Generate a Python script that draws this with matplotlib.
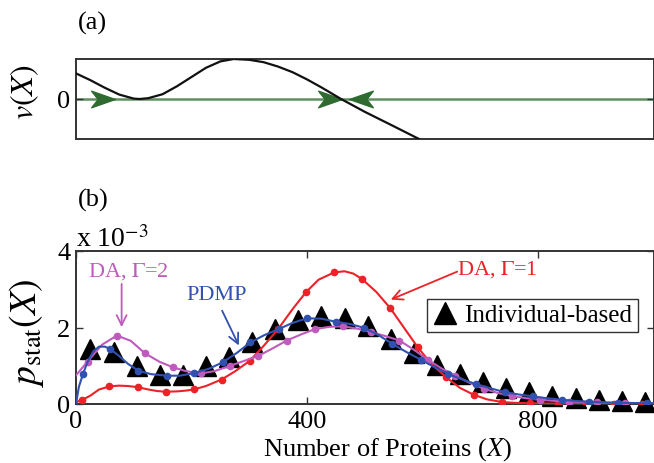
import matplotlib
matplotlib.use("Agg")
import matplotlib.pyplot as plt
from matplotlib.path import Path

plt.rcParams["font.family"] = ["Liberation Serif", "DejaVu Serif"]
plt.rcParams["mathtext.fontset"] = "stix"

# ---- panel (a): velocity field v(X) (arbitrary units, zero = fixed points) ----
v_x = [0, 25, 50, 75, 100, 110, 125, 150, 175, 200, 225, 250, 273, 300,
       325, 350, 375, 400, 425, 459, 500, 550, 594]
v_y = [0.64, 0.47, 0.28, 0.11, 0.01, 0.0, 0.02, 0.12, 0.32, 0.55, 0.78, 0.94,
       1.0, 0.98, 0.92, 0.81, 0.67, 0.49, 0.29, 0.0, -0.32, -0.68, -1.0]
flow_right_x = [46, 440]
flow_left_x = [494]

# ---- panel (b): stationary distributions (values in units of 1e-3) ----
# DA, Gamma=1 (red)
red_x = [0, 10, 25, 40, 58, 75, 90, 107, 125, 140, 155, 175, 190, 204, 225,
         252, 275, 301, 325, 350, 375, 398, 420, 447, 465, 480, 495, 520, 544,
         570, 592, 615, 641, 665, 689, 712, 738, 760, 786, 835, 900, 1000]
red_y = [0.05, 0.10, 0.22, 0.38, 0.46, 0.48, 0.47, 0.44, 0.38, 0.34, 0.32,
         0.33, 0.35, 0.38, 0.47, 0.64, 0.85, 1.13, 1.52, 1.96, 2.48, 2.92,
         3.25, 3.44, 3.47, 3.41, 3.27, 2.93, 2.51, 1.95, 1.48, 1.05, 0.70,
         0.42, 0.24, 0.12, 0.05, 0.03, 0.02, 0.01, 0.005, 0.0]
red_mx = [10, 58, 107, 155, 204, 252, 301, 350, 398, 447, 495, 544, 592, 641,
          689, 738, 786, 835, 883, 932, 980]
red_my = [0.10, 0.46, 0.44, 0.32, 0.38, 0.64, 1.13, 1.96, 2.92, 3.44, 3.27,
          2.51, 1.48, 0.70, 0.24, 0.05, 0.02, 0.01, 0.01, 0.0, 0.0]

# DA, Gamma=2 (magenta)
mag_x = [0, 20, 45, 71, 95, 119, 145, 168, 190, 217, 240, 267, 290, 316, 340,
         365, 390, 414, 440, 462, 487, 511, 535, 560, 585, 609, 633, 657, 682,
         706, 730, 755, 780, 804, 830, 853, 900, 950, 1000]
mag_y = [0.75, 1.11, 1.55, 1.79, 1.65, 1.33, 1.10, 0.96, 0.86, 0.80, 0.86,
         1.00, 1.12, 1.26, 1.45, 1.66, 1.82, 1.96, 2.02, 2.03, 1.97, 1.88,
         1.78, 1.66, 1.42, 1.16, 0.93, 0.74, 0.55, 0.40, 0.29, 0.21, 0.15,
         0.11, 0.08, 0.06, 0.04, 0.03, 0.02]
mag_mx = [20, 71, 119, 168, 217, 267, 316, 365, 414, 462, 511, 560, 609, 657,
          706, 755, 804, 853, 902, 951]
mag_my = [1.11, 1.79, 1.33, 0.96, 0.80, 1.00, 1.26, 1.66, 1.96, 2.03, 1.88,
          1.66, 1.16, 0.74, 0.40, 0.21, 0.11, 0.06, 0.04, 0.03]

# PDMP (blue)
blue_x = [0, 5, 12, 20, 30, 40, 50, 59, 75, 90, 108, 130, 157, 180, 205, 230,
          254, 278, 302, 326, 351, 375, 400, 425, 450, 475, 499, 524, 548, 572,
          597, 621, 645, 669, 693, 718, 742, 766, 791, 816, 842, 865, 889, 913,
          938, 963, 988, 1000]
blue_y = [0.0, 0.45, 0.78, 1.10, 1.38, 1.50, 1.50, 1.44, 1.25, 1.05, 0.87,
          0.78, 0.74, 0.74, 0.81, 0.92, 1.09, 1.33, 1.61, 1.80, 1.96, 2.12,
          2.24, 2.23, 2.15, 2.09, 1.99, 1.80, 1.57, 1.36, 1.16, 0.96, 0.78,
          0.64, 0.52, 0.41, 0.31, 0.25, 0.20, 0.15, 0.11, 0.08, 0.06, 0.04,
          0.03, 0.025, 0.02, 0.02]
blue_mx = [12, 59, 108, 157, 205, 254, 302, 351, 400, 450, 499, 548, 597, 645,
           693, 742, 791, 842, 889, 938, 988]
blue_my = [0.78, 1.44, 0.87, 0.74, 0.81, 1.09, 1.61, 1.96, 2.24, 2.15, 1.99,
           1.57, 1.16, 0.78, 0.52, 0.31, 0.20, 0.11, 0.06, 0.03, 0.02]

# Individual-based simulation (black triangles)
ind_x = [25, 65, 105, 145, 185, 225, 265, 305, 345, 385, 425, 465, 505, 545,
         585, 625, 665, 705, 745, 785, 825, 865, 905, 945, 985]
ind_y = [1.44, 1.35, 1.00, 0.75, 0.76, 0.99, 1.22, 1.63, 1.96, 2.20, 2.29,
         2.24, 2.03, 1.70, 1.33, 1.02, 0.78, 0.58, 0.41, 0.31, 0.20, 0.15,
         0.11, 0.09, 0.04]

# annotation texts and arrows (text pos, arrow start, arrow tip)
notes = [
    (r"DA, $\Gamma$=2", (91, 3.50), (79, 3.14), (79, 2.01)),
    ("PDMP", (243, 2.85), (253, 2.44), (282, 1.53)),
    (r"DA, $\Gamma$=1", (730, 3.55), (660, 3.46), (545, 2.73)),
]

RED = "#ec2229"
MAG = "#bf5bbd"
BLUE = "#3151ae"
GREEN = "#2f6b30"
SPINE = "#333333"
W, H = 654, 464


def style_axes(ax):
    for s in ax.spines.values():
        s.set_linewidth(1.4)
        s.set_color(SPINE)
    ax.tick_params(direction="in", top=True, right=True, length=5,
                   width=1.0, color=SPINE, labelsize=19, pad=4)


fig = plt.figure(figsize=(W / 100, H / 100), dpi=100)
left, right = 76 / W, 653.5 / W
ax_a = fig.add_axes([left, 1 - 140 / H, right - left, 80 / H])
ax_b = fig.add_axes([left, 1 - 405 / H, right - left, 153 / H])

# ---- (a) ----
ax_a.plot([0, 1000], [0, 0], color="#5f905f", lw=1.8, zorder=1)
head = Path([(1, 0), (-1, 0.7), (-0.45, 0), (-1, -0.7), (1, 0)],
            [Path.MOVETO, Path.LINETO, Path.LINETO, Path.LINETO, Path.CLOSEPOLY])
head_l = Path([(-1, 0), (1, 0.7), (0.45, 0), (1, -0.7), (-1, 0)],
              [Path.MOVETO, Path.LINETO, Path.LINETO, Path.LINETO, Path.CLOSEPOLY])
ax_a.plot(flow_right_x, [0] * len(flow_right_x), ls="none", marker=head,
          ms=17, color=GREEN, mec=GREEN, zorder=2)
ax_a.plot(flow_left_x, [0] * len(flow_left_x), ls="none", marker=head_l,
          ms=17, color=GREEN, mec=GREEN, zorder=2)
ax_a.plot(v_x, v_y, color="#111111", lw=1.6, zorder=3, clip_on=True)
ax_a.set_xlim(0, 1000)
ax_a.set_ylim(-1, 1)
ax_a.set_xticks([])
ax_a.set_yticks([0])
style_axes(ax_a)
ax_a.set_ylabel(r"$v(X)$", fontsize=23, va="center", rotation_mode="anchor")
ax_a.yaxis.set_label_coords((25 - 76) / 577.5, (140 - 92.5) / 80)
fig.text(92 / W, 1 - 23 / H, "(a)", fontsize=19, ha="center", va="center")

# ---- (b) ----
ax_b.plot(ind_x, ind_y, ls="none", marker="^", ms=14, color="black",
          zorder=2, clip_on=False, label="Individual-based")
ax_b.plot(red_x, red_y, color=RED, lw=1.5, zorder=3)
ax_b.plot(red_mx, red_my, ls="none", marker="o", ms=4.5, color=RED, zorder=3)
ax_b.plot(mag_x, mag_y, color=MAG, lw=1.5, zorder=3)
ax_b.plot(mag_mx, mag_my, ls="none", marker="o", ms=4.5, color=MAG, zorder=3)
ax_b.plot(blue_x, blue_y, color=BLUE, lw=1.5, zorder=4)
ax_b.plot(blue_mx, blue_my, ls="none", marker="o", ms=4.5, color=BLUE, zorder=4)

ax_b.set_xlim(0, 1000)
ax_b.set_ylim(0, 4)
ax_b.set_xticks([0, 400, 800])
ax_b.set_yticks([0, 2, 4])
ax_b.set_yticklabels(["0", "2", "4"])
style_axes(ax_b)

fig.text(76 / W, 1 - 247 / H, r"x 10$^{-3}$", fontsize=20, ha="left",
         va="baseline")
fig.text(93 / W, 1 - 200 / H, "(b)", fontsize=19, ha="center", va="center")

ax_b.set_xlabel(r"Number of Proteins ($X$)", fontsize=19, va="center")
ax_b.xaxis.set_label_coords((388 - 76) / 577.5, (405 - 450) / 153)
ax_b.set_ylabel(r"$p_{\rm stat}(X)$", fontsize=27, va="center",
                rotation_mode="anchor")
ax_b.yaxis.set_label_coords((26 - 76) / 577.5, (405 - 333) / 153)

for (label, txt, start, tip), col in zip(notes, [MAG, BLUE, RED]):
    ax_b.text(txt[0], txt[1], label, color=col, fontsize=16,
              ha="center", va="center")
    ax_b.annotate("", xy=tip, xytext=start,
                  arrowprops=dict(arrowstyle="->", color=col, lw=1.3,
                                  shrinkA=0, shrinkB=0, mutation_scale=18))

leg = ax_b.legend(loc="upper left",
                  bbox_to_anchor=((427 - 76) / 577.5, (405 - 300) / 153),
                  fontsize=18, frameon=True, fancybox=False, handlelength=1.0,
                  handletextpad=0.3, borderpad=0.2, borderaxespad=0,
                  markerscale=1.1)
leg.get_frame().set_edgecolor("black")
leg.get_frame().set_linewidth(1.0)

fig.savefig("out.png", dpi=100)
